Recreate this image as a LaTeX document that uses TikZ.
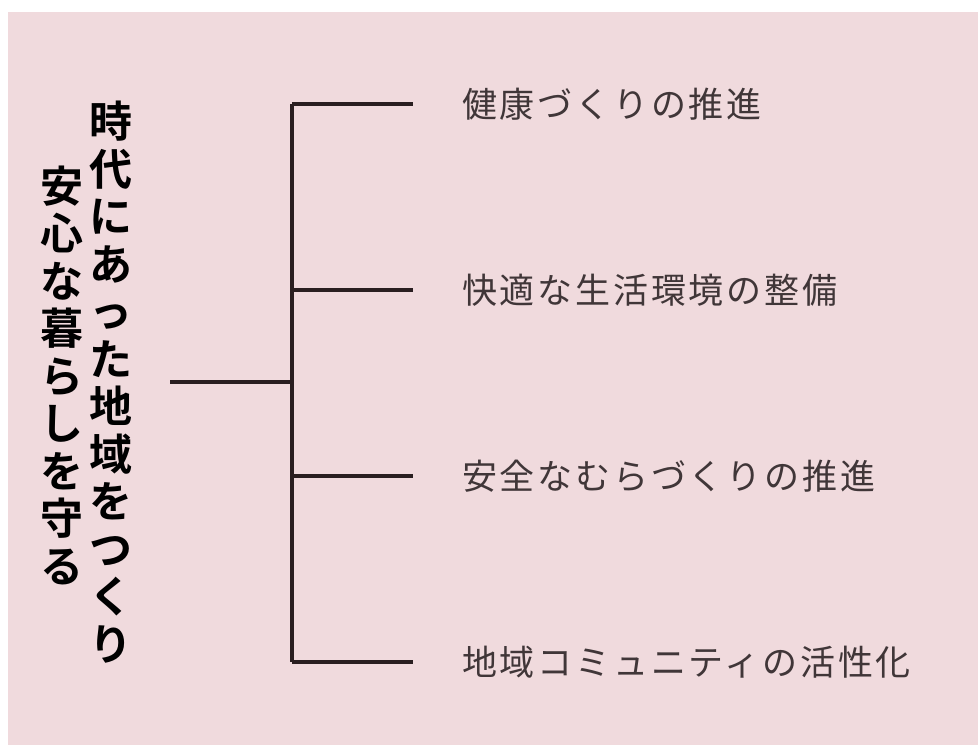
\documentclass[tikz,border=0pt]{standalone}
\usepackage{fontspec}
\usepackage{xcolor}
\usepackage{tikz}
\usetikzlibrary{positioning}
\newfontfamily\jpbold[BoldFont={Noto Sans CJK JP Bold}]{Noto Sans CJK JP}
\newfontfamily\jplabel[LetterSpace=8]{Noto Sans CJK JP}
\definecolor{bgpink}{HTML}{F0DADD}
\definecolor{labelgray}{HTML}{403638}
\definecolor{linedark}{HTML}{2A1E20}
\tikzset{
  tree/.style={line width=3.4pt, color=linedark},
  title/.style={align=center, inner sep=0pt, font=\jpbold\bfseries\fontsize{43}{47.5}\selectfont},
  item/.style={anchor=west, inner sep=0pt, text=labelgray, font=\jplabel\fontsize{35}{40}\selectfont}
}
\begin{document}
\begin{tikzpicture}[x=1pt, y=-1pt]
\useasboundingbox (0,0) rectangle (978,745);
\fill[white] (0,0) rectangle (978,745);
\fill[bgpink] (8,12) rectangle (978,745);

% title, two vertical columns
\node[title] (t1) at (111,382) {時\\代\\に\\あ\\っ\\た\\地\\域\\を\\つ\\く\\り};
\node[title] (t2) at (62,375) {安\\心\\な\\暮\\ら\\し\\を\\守\\る};

% tree
\coordinate (root) at (170,382);
\coordinate (fork) at (292,382);
\coordinate (b1) at (292,104);
\coordinate (b2) at (292,290);
\coordinate (b3) at (292,476);
\coordinate (b4) at (292,662);
\coordinate (e1) at (413,104);
\coordinate (e2) at (413,290);
\coordinate (e3) at (413,476);
\coordinate (e4) at (413,662);

\draw[tree] (root) -- (fork);
\draw[tree] (b1) -- (b4);
\draw[tree] (b1) -- (e1);
\draw[tree] (b2) -- (e2);
\draw[tree] (b3) -- (e3);
\draw[tree] (b4) -- (e4);

% labels
\node[item, right=49pt of e1] (l1) {健康づくりの推進};
\node[item, right=49pt of e2] (l2) {快適な生活環境の整備};
\node[item, right=49pt of e3] (l3) {安全なむらづくりの推進};
\node[item, right=49pt of e4] (l4) {地域コミュニティの活性化};
\end{tikzpicture}
\end{document}
